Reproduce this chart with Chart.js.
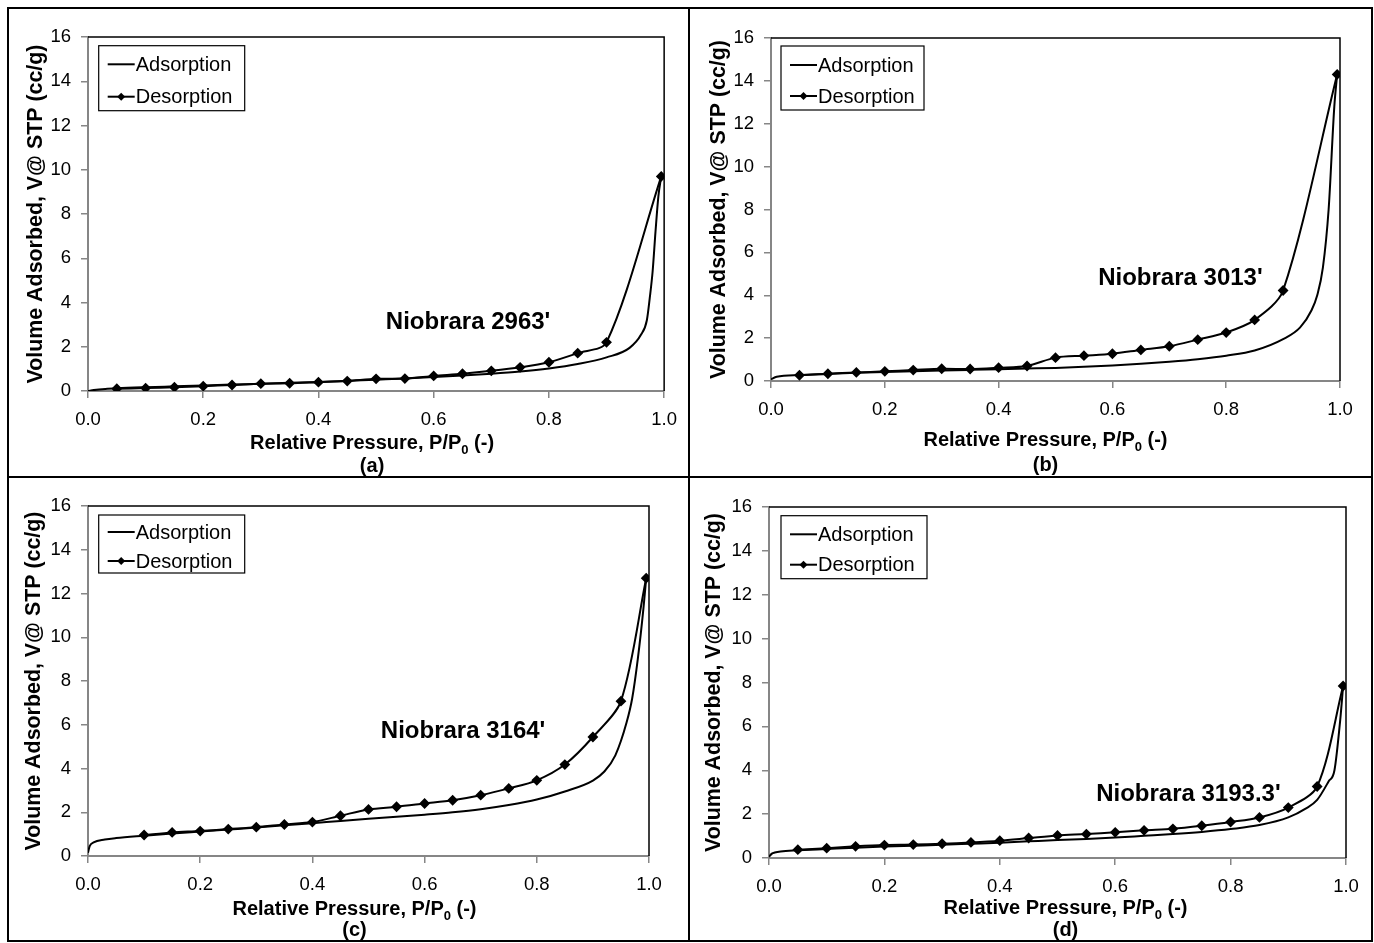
<!DOCTYPE html>
<html>
<head>
<meta charset="utf-8">
<script src="https://cdn.jsdelivr.net/npm/chart.js@4.4.0/dist/chart.umd.min.js"></script>
<style>
  html, body { margin: 0; padding: 0; background: #fff; }
  #fig { position: relative; width: 1374px; height: 943px; overflow: hidden; background: #fff; }
  .rule { position: absolute; background: #000; }
  canvas { position: absolute; }
</style>
</head>
<body>
<div id="fig">
  <canvas id="chartA" width="678" height="466" style="left:10px;top:10px"></canvas>
  <canvas id="chartB" width="680" height="466" style="left:691px;top:10px"></canvas>
  <canvas id="chartC" width="678" height="461" style="left:10px;top:479px"></canvas>
  <canvas id="chartD" width="680" height="461" style="left:691px;top:479px"></canvas>
  <div class="rule" style="left:7px;top:7px;width:1366px;height:2px"></div>
  <div class="rule" style="left:7px;top:940px;width:1366px;height:2px"></div>
  <div class="rule" style="left:7px;top:7px;width:2px;height:935px"></div>
  <div class="rule" style="left:1371px;top:7px;width:2px;height:935px"></div>
  <div class="rule" style="left:688px;top:7px;width:2px;height:935px"></div>
  <div class="rule" style="left:7px;top:476px;width:1366px;height:2px"></div>
</div>
<script>
// axis ticks
const X_MIN = 0, X_MAX = 1, X_STEP = 0.2;
const Y_MIN = 0, Y_MAX = 16, Y_STEP = 2;

// (a) Niobrara 2963'
const desXA = [0.05, 0.10, 0.15, 0.20, 0.25, 0.30, 0.35, 0.40, 0.45, 0.50, 0.55, 0.60, 0.65, 0.70, 0.75, 0.80, 0.85, 0.90, 0.995];
const desYA = [0.10, 0.13, 0.17, 0.22, 0.27, 0.33, 0.35, 0.40, 0.45, 0.55, 0.56, 0.68, 0.78, 0.91, 1.07, 1.30, 1.71, 2.20, 9.70];
const adsXA = [0, 0.01, 0.03, 0.05, 0.10, 0.15, 0.20, 0.25, 0.30, 0.35, 0.40, 0.45, 0.50, 0.55, 0.60, 0.65, 0.70, 0.75, 0.80, 0.85, 0.90, 0.94, 0.96, 0.97, 0.975, 0.98, 0.985, 0.99, 0.995];
const adsYA = [0, 0.04, 0.09, 0.12, 0.17, 0.21, 0.25, 0.29, 0.33, 0.37, 0.41, 0.46, 0.51, 0.56, 0.63, 0.70, 0.78, 0.88, 1.02, 1.22, 1.52, 1.95, 2.55, 3.2, 4.2, 5.4, 7.2, 8.8, 9.70];

// (b) Niobrara 3013'
const desXB = [0.05, 0.10, 0.15, 0.20, 0.25, 0.30, 0.35, 0.40, 0.45, 0.50, 0.55, 0.60, 0.65, 0.70, 0.75, 0.80, 0.85, 0.90, 0.995];
const desYB = [0.27, 0.34, 0.40, 0.45, 0.51, 0.57, 0.56, 0.62, 0.70, 1.09, 1.18, 1.27, 1.45, 1.62, 1.93, 2.26, 2.85, 4.22, 14.30];
const adsXB = [0, 0.01, 0.05, 0.10, 0.15, 0.20, 0.25, 0.30, 0.35, 0.40, 0.45, 0.50, 0.55, 0.60, 0.65, 0.70, 0.75, 0.80, 0.85, 0.90, 0.93, 0.95, 0.96, 0.97, 0.98, 0.99, 0.995];
const adsYB = [0.08, 0.20, 0.28, 0.33, 0.38, 0.42, 0.46, 0.49, 0.52, 0.55, 0.58, 0.61, 0.66, 0.72, 0.80, 0.90, 1.02, 1.18, 1.42, 1.95, 2.5, 3.3, 4.0, 5.3, 8.0, 12.8, 14.30];

// (c) Niobrara 3164'
const desXC = [0.10, 0.15, 0.20, 0.25, 0.30, 0.35, 0.40, 0.45, 0.50, 0.55, 0.60, 0.65, 0.70, 0.75, 0.80, 0.85, 0.90, 0.95, 0.995];
const desYC = [0.96, 1.08, 1.14, 1.23, 1.32, 1.44, 1.55, 1.84, 2.13, 2.25, 2.40, 2.55, 2.78, 3.09, 3.46, 4.18, 5.44, 7.08, 12.70];
const adsXC = [0, 0.003, 0.01, 0.03, 0.05, 0.10, 0.15, 0.20, 0.25, 0.30, 0.35, 0.40, 0.45, 0.50, 0.55, 0.60, 0.65, 0.70, 0.75, 0.80, 0.85, 0.90, 0.92, 0.94, 0.96, 0.97, 0.98, 0.99, 0.995];
const adsYC = [0.15, 0.45, 0.62, 0.75, 0.82, 0.93, 1.03, 1.12, 1.21, 1.30, 1.40, 1.50, 1.60, 1.70, 1.79, 1.89, 2.00, 2.14, 2.33, 2.58, 2.95, 3.45, 3.85, 4.6, 6.1, 7.2, 9.0, 11.3, 12.70];

// (d) Niobrara 3193.3'
const desXD = [0.05, 0.10, 0.15, 0.20, 0.25, 0.30, 0.35, 0.40, 0.45, 0.50, 0.55, 0.60, 0.65, 0.70, 0.75, 0.80, 0.85, 0.90, 0.95, 0.995];
const desYD = [0.38, 0.45, 0.53, 0.59, 0.61, 0.65, 0.71, 0.79, 0.91, 1.03, 1.09, 1.17, 1.26, 1.33, 1.47, 1.64, 1.85, 2.30, 3.26, 7.84];
const adsXD = [0, 0.005, 0.01, 0.02, 0.05, 0.10, 0.15, 0.20, 0.25, 0.30, 0.35, 0.40, 0.45, 0.50, 0.55, 0.60, 0.65, 0.70, 0.75, 0.80, 0.85, 0.90, 0.93, 0.95, 0.97, 0.98, 0.99, 0.995];
const adsYD = [0.05, 0.20, 0.25, 0.30, 0.35, 0.41, 0.47, 0.52, 0.56, 0.60, 0.65, 0.70, 0.76, 0.82, 0.87, 0.93, 1.01, 1.09, 1.19, 1.32, 1.50, 1.85, 2.25, 2.65, 3.5, 4.0, 6.3, 7.84];

const SERIES_NAMES = ['Adsorption', 'Desorption'];
const Y_TITLE = 'Volume Adsorbed, V@ STP (cc/g)';
const X_TITLE = ['Relative Pressure, P/P', '0', ' (-)'];

const FONT = '"Liberation Sans", Arial, Helvetica, sans-serif';
const AXIS_GRAY = '#868686';

function pts(xs, ys) {
  return xs.map(function (x, i) { return { x: x, y: ys[i] }; });
}

function drawDiamond(ctx, x, y, r) {
  ctx.beginPath();
  ctx.moveTo(x, y - r);
  ctx.lineTo(x + r, y);
  ctx.lineTo(x, y + r);
  ctx.lineTo(x - r, y);
  ctx.closePath();
  ctx.fill();
}

// legend box, sample name, x title with subscript and panel caption
const decorPlugin = {
  id: 'panelDecor',
  afterDraw: function (chart, args, o) {
    const ctx = chart.ctx;
    const a = chart.chartArea;
    const xs = chart.scales.x, ys = chart.scales.y;
    ctx.save();

    // plot area frame, top and right
    ctx.strokeStyle = '#000';
    ctx.lineWidth = 1.5;
    ctx.beginPath();
    ctx.moveTo(a.left, a.top);
    ctx.lineTo(a.right, a.top);
    ctx.lineTo(a.right, a.bottom);
    ctx.stroke();

    // legend
    const lg = o.legend;
    const lx = a.left + lg.x, ly = a.top + lg.y;
    ctx.fillStyle = '#fff';
    ctx.fillRect(lx, ly, lg.w, lg.h);
    ctx.lineWidth = 1.2;
    ctx.strokeRect(lx, ly, lg.w, lg.h);
    ctx.lineWidth = 2;
    ctx.fillStyle = '#000';
    ctx.font = '20px ' + FONT;
    ctx.textAlign = 'left';
    ctx.textBaseline = 'middle';
    [lg.row1, lg.row2].forEach(function (ry, i) {
      const yy = ly + ry;
      ctx.beginPath();
      ctx.moveTo(lx + 9, yy);
      ctx.lineTo(lx + 36, yy);
      ctx.stroke();
      if (i === 1) drawDiamond(ctx, lx + 22.5, yy, 4);
      ctx.fillText(SERIES_NAMES[i], lx + 37, yy + 1);
    });

    // sample name
    ctx.font = 'bold 24px ' + FONT;
    ctx.fillText(o.note, xs.getPixelForValue(o.noteX), ys.getPixelForValue(o.noteY));

    // x axis title with subscript
    const cx = (a.left + a.right) / 2 + o.titleDx;
    ctx.font = 'bold 20px ' + FONT;
    const w1 = ctx.measureText(X_TITLE[0]).width;
    const w3 = ctx.measureText(X_TITLE[2]).width;
    ctx.font = 'bold 13px ' + FONT;
    const w2 = ctx.measureText(X_TITLE[1]).width;
    let tx = cx - (w1 + w2 + w3) / 2;
    const base = a.bottom + o.titleDy + 7;
    ctx.textBaseline = 'alphabetic';
    ctx.font = 'bold 20px ' + FONT;
    ctx.fillText(X_TITLE[0], tx, base);
    tx += w1;
    ctx.font = 'bold 13px ' + FONT;
    ctx.fillText(X_TITLE[1], tx, base + 5);
    tx += w2;
    ctx.font = 'bold 20px ' + FONT;
    ctx.fillText(X_TITLE[2], tx, base);

    // caption
    ctx.textAlign = 'center';
    ctx.textBaseline = 'middle';
    ctx.fillText(o.caption, cx, a.bottom + o.captionDy);
    ctx.restore();
  }
};

function makeChart(id, p) {
  return new Chart(document.getElementById(id), {
    type: 'scatter',
    data: {
      datasets: [{
        label: SERIES_NAMES[0],
        data: pts(p.adsX, p.adsY),
        showLine: true,
        borderColor: '#000',
        borderWidth: 2,
        pointRadius: 0,
        cubicInterpolationMode: 'monotone',
      }, {
        label: SERIES_NAMES[1],
        data: pts(p.desX, p.desY),
        showLine: true,
        borderColor: '#000',
        backgroundColor: '#000',
        borderWidth: 2,
        pointStyle: 'rectRot',
        pointRadius: 4,
        tension: 0.3,
      }],
    },
    options: {
      responsive: false,
      animation: false,
      layout: { padding: { left: 0, top: p.padTop, right: p.padRight, bottom: 0 } },
      plugins: {
        legend: { display: false },
        tooltip: { enabled: false },
        panelDecor: p.decor,
      },
      scales: {
        x: {
          type: 'linear', min: X_MIN, max: X_MAX,
          afterFit: function (s) { s.height = p.xAxisH; },
          border: { color: AXIS_GRAY, width: 2 },
          grid: { drawOnChartArea: false, tickLength: 7, color: AXIS_GRAY, lineWidth: 1.5 },
          ticks: {
            stepSize: X_STEP, padding: 11, color: '#000', maxRotation: 0,
            font: { family: FONT, size: 18.5 },
            callback: function (v) { return Number(v).toFixed(1); },
          },
        },
        y: {
          type: 'linear', min: Y_MIN, max: Y_MAX,
          afterFit: function (s) { s.width = p.yAxisW; },
          border: { color: AXIS_GRAY, width: 2 },
          grid: { drawOnChartArea: false, tickLength: 7, color: AXIS_GRAY, lineWidth: 1.5 },
          ticks: { stepSize: Y_STEP, padding: 10, color: '#000', font: { family: FONT, size: 18.5 } },
          title: {
            display: true, text: Y_TITLE, color: '#000',
            font: { family: FONT, size: 21.4, weight: 'bold' },
            padding: { top: p.yTitlePad, bottom: 0 },
          },
        },
      },
    },
    plugins: [decorPlugin],
  });
}

makeChart('chartA', {
  adsX: adsXA, adsY: adsYA, desX: desXA, desY: desYA,
  padTop: 27, padRight: 22, yAxisW: 78, xAxisH: 85, yTitlePad: 13,
  decor: {
    legend: { x: 10.7, y: 8.7, w: 146, h: 65, row1: 18.6, row2: 51 },
    note: "Niobrara 2963'", noteX: 0.517, noteY: 3.1,
    titleDx: -4, titleDy: 50.7, caption: '(a)', captionDy: 75,
  },
});

makeChart('chartB', {
  adsX: adsXB, adsY: adsYB, desX: desXB, desY: desYB,
  padTop: 28, padRight: 31, yAxisW: 80, xAxisH: 95, yTitlePad: 15,
  decor: {
    legend: { x: 10, y: 8, w: 143, h: 64, row1: 19, row2: 50 },
    note: "Niobrara 3013'", noteX: 0.575, noteY: 4.77,
    titleDx: -10, titleDy: 57.5, caption: '(b)', captionDy: 84,
  },
});

makeChart('chartC', {
  adsX: adsXC, adsY: adsYC, desX: desXC, desY: desYC,
  padTop: 27, padRight: 39, yAxisW: 78, xAxisH: 84, yTitlePad: 11,
  decor: {
    legend: { x: 10.7, y: 9, w: 146, h: 58, row1: 17, row2: 46 },
    note: "Niobrara 3164'", noteX: 0.522, noteY: 5.7,
    titleDx: -14, titleDy: 52, caption: '(c)', captionDy: 74,
  },
});

makeChart('chartD', {
  adsX: adsXD, adsY: adsYD, desX: desXD, desY: desYD,
  padTop: 28, padRight: 25, yAxisW: 78, xAxisH: 82, yTitlePad: 10,
  decor: {
    legend: { x: 12, y: 8.7, w: 146, h: 63, row1: 18.6, row2: 49 },
    note: "Niobrara 3193.3'", noteX: 0.567, noteY: 2.9,
    titleDx: 8, titleDy: 49, caption: '(d)', captionDy: 72,
  },
});
</script>
</body>
</html>
